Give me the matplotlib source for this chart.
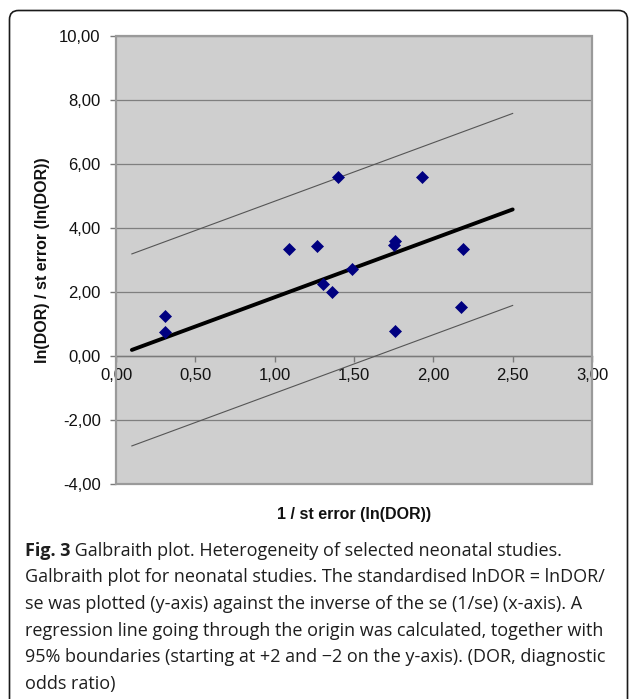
import matplotlib
matplotlib.use("Agg")
import matplotlib.pyplot as plt
from matplotlib.patches import Rectangle, FancyBboxPatch
from matplotlib.ticker import FuncFormatter

# ---- data ----
inv_se = [0.31, 0.31, 1.09, 1.265, 1.305, 1.36, 1.40, 1.49, 1.75, 1.76, 1.76, 1.93, 2.175, 2.185]
std_lndor = [1.26, 0.75, 3.34, 3.45, 2.25, 2.01, 5.58, 2.73, 3.46, 3.60, 0.79, 5.58, 1.54, 3.33]

line_x = [0.10, 2.50]
reg_y = [0.19, 4.58]
upper_y = [3.19, 7.58]
lower_y = [-2.81, 1.58]

x_ticks = [0.0, 0.5, 1.0, 1.5, 2.0, 2.5, 3.0]
y_ticks = [-4, -2, 0, 2, 4, 6, 8, 10]

x_title = "1 / st error (ln(DOR))"
y_title = "ln(DOR) / st error (ln(DOR))"
caption_bold = "Fig. 3"
caption_lines = [
    " Galbraith plot. Heterogeneity of selected neonatal studies.",
    "Galbraith plot for neonatal studies. The standardised lnDOR = lnDOR/",
    "se was plotted (y-axis) against the inverse of the se (1/se) (x-axis). A",
    "regression line going through the origin was calculated, together with",
    "95% boundaries (starting at +2 and \u22122 on the y-axis). (DOR, diagnostic",
    "odds ratio)",
]

W, H = 630, 699
fig = plt.figure(figsize=(W / 100, H / 100), dpi=100)
fig.patch.set_facecolor("white")

# outer rounded border
border = FancyBboxPatch((9.5 / 100, -0.5), (627.5 - 9.5) / 100, (H - 10.5) / 100 + 0.5,
                        boxstyle="round,pad=0,rounding_size=0.09",
                        transform=fig.dpi_scale_trans, fill=False,
                        edgecolor="#1a1a1a", linewidth=1.2)
fig.patches.append(border)

ax_left, ax_right = 116, 592
ax_top, ax_bottom = 36, 484
ax = fig.add_axes([ax_left / W, 1 - ax_bottom / H, (ax_right - ax_left) / W, (ax_bottom - ax_top) / H])
ax.set_facecolor("#cfcfcf")
ax.set_xlim(0, 3)
ax.set_ylim(-4, 10)

for s in ["top", "right", "left"]:
    ax.spines[s].set_visible(False)
ax.spines["bottom"].set_position(("data", 0))
ax.spines["bottom"].set_color("#7a7a7a")
ax.spines["bottom"].set_linewidth(1.0)

frame = Rectangle((0, 0), 1, 1, transform=ax.transAxes, fill=False,
                  edgecolor="#9a9a9a", linewidth=1.6, clip_on=False, zorder=5)
ax.add_patch(frame)

ax.set_xticks(x_ticks)
ax.set_yticks(y_ticks)
fmt = FuncFormatter(lambda v, p: f"{v:.2f}".replace(".", ","))
ax.xaxis.set_major_formatter(fmt)
ax.yaxis.set_major_formatter(fmt)
ax.tick_params(axis="both", direction="out", length=4, width=1.0, color="#7a7a7a",
               labelsize=12, labelcolor="#111111")
ax.tick_params(axis="y", pad=7)
ax.tick_params(axis="x", pad=4.5)
for lab in ax.get_xticklabels() + ax.get_yticklabels():
    lab.set_fontfamily("Liberation Sans")

ax.yaxis.grid(True, color="#7f7f7f", linewidth=0.9)
ax.set_axisbelow(True)

ax.plot(line_x, upper_y, color="#555555", linewidth=0.8, zorder=3)
ax.plot(line_x, lower_y, color="#555555", linewidth=0.8, zorder=3)
ax.plot(line_x, reg_y, color="black", linewidth=2.8, solid_capstyle="round", zorder=3)
ax.plot(inv_se, std_lndor, linestyle="none", marker="D", markersize=6.2,
        markerfacecolor="#000080", markeredgecolor="#000080", markeredgewidth=0.5, zorder=4)

# axis titles
fig.text((ax_left + ax_right) / 2 / W, 1 - 515 / H, x_title, ha="center", va="center",
         fontsize=11.5, fontweight="bold", family="Liberation Sans", color="#111111")
fig.text(43 / W, 1 - (ax_top + ax_bottom) / 2 / H, y_title, ha="center", va="center",
         rotation=90, fontsize=11.5, fontweight="bold", family="Liberation Sans", color="#111111")

# caption
cap_font = "Open Sans"
cap_size = 13.0
cap_color = "#1e1e1e"
baselines = [556, 582.5, 609, 635.5, 662, 688.5]
x0 = 25 / W
tb = fig.text(x0, 1 - baselines[0] / H, caption_bold, ha="left", va="baseline",
              fontsize=cap_size, fontweight="bold", family=cap_font, color=cap_color)
fig.canvas.draw()
bb = tb.get_window_extent(renderer=fig.canvas.get_renderer())
fig.text(bb.x1 / W, 1 - baselines[0] / H, caption_lines[0], ha="left", va="baseline",
         fontsize=cap_size, family=cap_font, color=cap_color)
for line, b in zip(caption_lines[1:], baselines[1:]):
    fig.text(x0, 1 - b / H, line, ha="left", va="baseline",
             fontsize=cap_size, family=cap_font, color=cap_color)

fig.savefig("out.png", dpi=100)
